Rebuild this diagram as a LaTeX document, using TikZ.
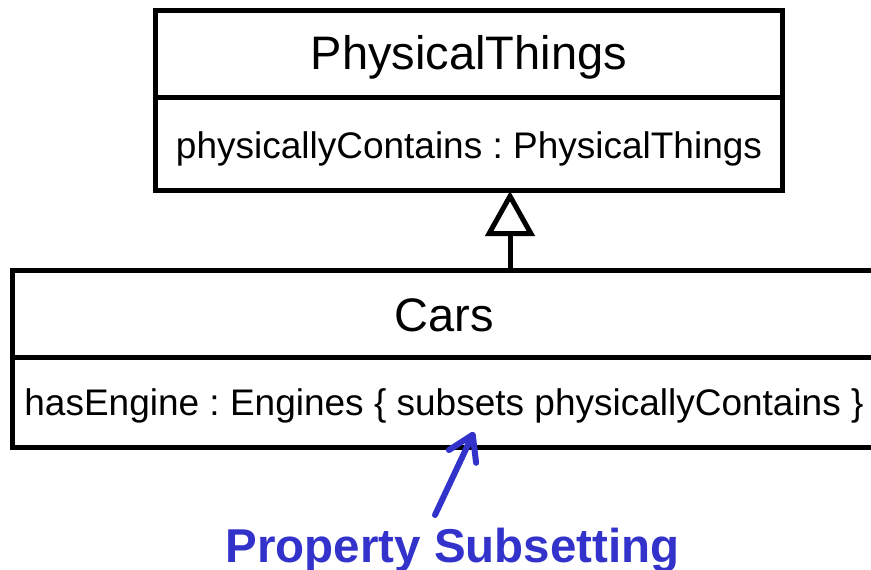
\documentclass[tikz,border=0pt]{standalone}
\usepackage{fontspec}
\setmainfont{Liberation Sans}
\usetikzlibrary{arrows.meta}
\definecolor{noteblue}{RGB}{51,51,204}
\frenchspacing
\tikzset{
  umlbox/.style={draw=black, line width=5pt, fill=white, inner sep=0pt},
  divider/.style={draw=black, line width=5pt},
  title/.style={font=\fontsize{47}{56}\selectfont, anchor=base, inner sep=0pt},
  attr/.style={font=\fontsize{37}{44}\selectfont, anchor=base, inner sep=0pt},
  gen/.style={draw=black, line width=5pt, -{Triangle[open, length=45pt, width=49pt]}},
  note/.style={font=\bfseries\fontsize{47.5}{56}\selectfont, text=noteblue, anchor=base, inner sep=0pt},
  pointer/.style={draw=noteblue, line width=6pt, line cap=round, line join=round,
    -{Straight Barb[length=24pt, width=30pt, round]}}
}
\begin{document}
\begin{tikzpicture}[x=1pt, y=-1pt]
  \useasboundingbox (0,0) rectangle (871,570);

  % superclass PhysicalThings
  \node[umlbox, minimum width=626.5pt, minimum height=179.5pt] (phys) at (468.75,100.25) {};
  \draw[divider] (155.5,97) -- (782,97);
  \node[title] (physname) at (469,69) {PhysicalThings};
  \node[attr] (physattr) at (469,158) {physicallyContains : PhysicalThings};

  % subclass Cars (runs past the right edge)
  \node[umlbox, minimum width=864pt, minimum height=177pt] (cars) at (444,358.5) {};
  \draw[divider] (12,357) -- (876,357);
  \node[title] (carsname) at (444,331) {Cars};
  \node[attr] (carsattr) at (444,415) {hasEngine : Engines \{ subsets physicallyContains \}};

  % generalization
  \coordinate (genfoot) at (510,270);
  \coordinate (genhead) at (510,191);
  \draw[gen] (genfoot) -- (genhead);

  % annotation
  \node[note] (subsetting) at (452.5,562) {Property Subsetting};
  \coordinate (ptail) at (435,515);
  \coordinate (ptip) at (474,432);
  \draw[pointer] (ptail) -- (ptip);
\end{tikzpicture}
\end{document}
